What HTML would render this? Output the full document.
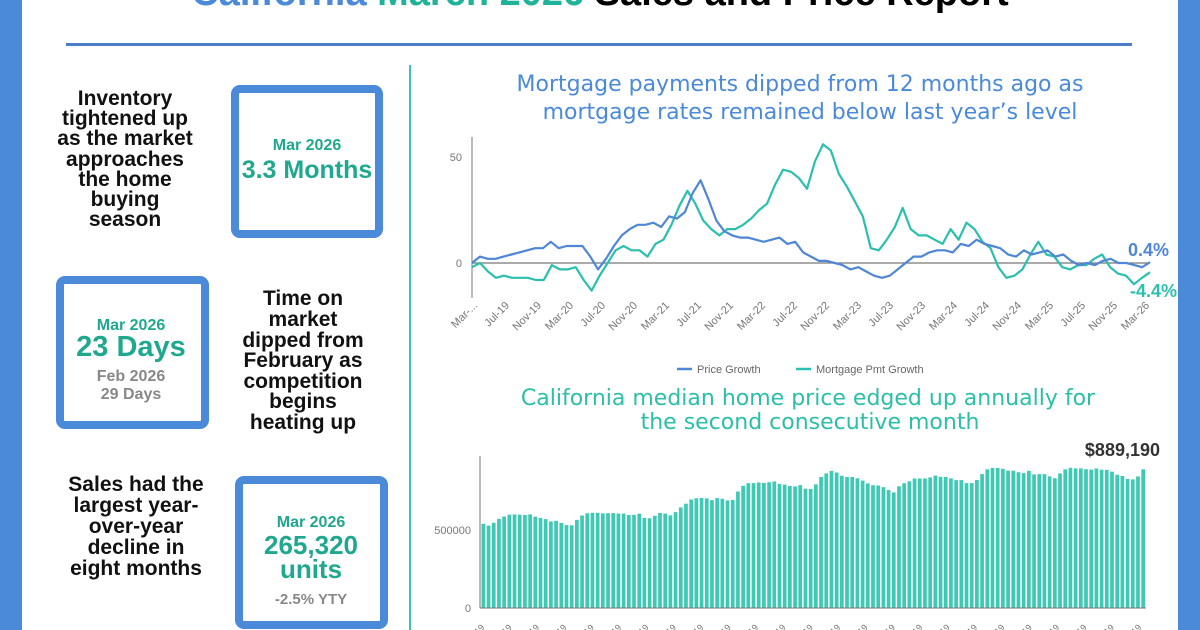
<!DOCTYPE html>
<html><head><meta charset="utf-8"><style>
html,body{margin:0;padding:0;background:#fff;}
body{width:1200px;height:630px;overflow:hidden;position:relative;font-family:"Liberation Sans","DejaVu Sans",sans-serif;}
svg{position:absolute;left:0;top:0;}
</style></head><body>
<svg id="s" width="1200" height="630" viewBox="0 0 1200 630" xmlns="http://www.w3.org/2000/svg">
<rect x="0" y="0" width="22" height="630" fill="#4a8ad9"/>
<rect x="1178" y="0" width="22" height="630" fill="#4a8ad9"/>
<text x="600" y="5" text-anchor="middle" font-size="38" font-weight="bold" fill="#000"><tspan fill="#4a8ad9">California</tspan> <tspan fill="#1fb49a">March 2026</tspan> Sales and Price Report</text>
<rect x="66" y="43" width="1066" height="3" fill="#4a7ec9"/>
<rect x="409" y="65" width="2" height="565" fill="#3ec3b0"/>
<g font-weight="bold" font-size="21" fill="#111" text-anchor="middle" font-family="'Liberation Sans',sans-serif">
<text x="125" y="105">Inventory</text><text x="125" y="125">tightened up</text><text x="125" y="145">as the market</text><text x="125" y="166">approaches</text><text x="125" y="186">the home</text><text x="125" y="206">buying</text><text x="125" y="226">season</text>
<text x="303" y="305">Time on</text><text x="303" y="326">market</text><text x="303" y="347">dipped from</text><text x="303" y="367">February as</text><text x="303" y="388">competition</text><text x="303" y="408">begins</text><text x="303" y="429">heating up</text>
<text x="136" y="491">Sales had the</text><text x="136" y="512">largest year-</text><text x="136" y="533">over-year</text><text x="136" y="554">decline in</text><text x="136" y="575">eight months</text>
</g>
<g fill="none" stroke="#4a8ad9" stroke-width="8">
<rect x="235" y="89" width="144" height="145" rx="5"/>
<rect x="60" y="280" width="145" height="145" rx="5"/>
<rect x="239" y="480" width="145" height="145" rx="5"/>
</g>
<g text-anchor="middle" font-family="'Liberation Sans',sans-serif" font-weight="bold" fill="#1fa88e">
<text x="307" y="150" font-size="16">Mar 2026</text><text x="307" y="178" font-size="25">3.3 Months</text>
<text x="131" y="330" font-size="16">Mar 2026</text><text x="131" y="356" font-size="29">23 Days</text>
<text x="311" y="527" font-size="16">Mar 2026</text><text x="311" y="554" font-size="26">265,320</text><text x="311" y="578" font-size="26">units</text>
</g>
<g text-anchor="middle" font-family="'Liberation Sans',sans-serif" fill="#888" font-weight="bold">
<text x="131" y="381" font-size="16">Feb 2026</text><text x="131" y="399" font-size="16">29 Days</text>
<text x="311" y="604" font-size="15">-2.5% YTY</text>
</g>
<g text-anchor="middle" font-size="22" fill="#4a8ad9" font-family="'DejaVu Sans',sans-serif">
<text x="800" y="91">Mortgage payments dipped from 12 months ago as</text>
<text x="810" y="119">mortgage rates remained below last year’s level</text>
</g>
<g text-anchor="middle" font-size="22" fill="#2bbfa8" font-family="'DejaVu Sans',sans-serif">
<text x="808" y="405">California median home price edged up annually for</text>
<text x="810" y="429">the second consecutive month</text>
</g>
<g id="lc"></g>
<g id="bc"></g>
</svg>
<script>
var NS="http://www.w3.org/2000/svg";
function el(p,t,a,txt){var e=document.createElementNS(NS,t);for(var k in a)e.setAttribute(k,a[k]);if(txt!=null)e.textContent=txt;p.appendChild(e);return e;}
var lc=document.getElementById('lc'),bc=document.getElementById('bc');
var x0=472,x1=1150,yz=263,sc=2.12;
el(lc,'line',{x1:x0,y1:137,x2:x0,y2:298,stroke:'#777','stroke-width':1});
el(lc,'line',{x1:x0,y1:yz,x2:x1,y2:yz,stroke:'#777','stroke-width':1.2});
el(lc,'text',{x:462,y:yz+4,'font-size':11,fill:'#777','text-anchor':'end'},'0');
el(lc,'text',{x:462,y:yz-106+4,'font-size':11,fill:'#777','text-anchor':'end'},'50');
var blue=[0,3,2,2,3,4,5,6,7,7,10,7,8,8,8,3,-3,2,8,13,16,18,18,19,17,22,21,24,33,39,30,20,15,13,12,12,11,10,11,12,9,10,5,3,1,1,0,-1,-3,-2,-4,-6,-7,-6,-3,0,3,3,5,6,6,5,9,8,11,9,8,7,4,3,6,4,5,6,3,4,1,-1,0,-1,1,2,0,0,-1,-2,0.4];
var teal=[-2,0,-4,-7,-6,-7,-7,-7,-8,-8,-1,-3,-3,-2,-8,-13,-6,0,6,8,6,6,3,9,11,18,27,34,28,20,16,13,16,16,18,21,25,28,37,44,43,40,35,48,56,53,42,36,29,22,7,6,11,17,26,16,13,13,11,9,16,11,19,16,10,7,-2,-7,-6,-3,4,10,4,3,-2,-3,-1,-1,2,4,-2,-5,-6,-10,-7,-4.4];
function path(d,c){var s='';for(var i=0;i<d.length;i++){var x=x0+(x1-x0)*i/(d.length-1),y=yz-d[i]*sc;s+=(i?'L':'M')+x.toFixed(1)+','+y.toFixed(1);}el(lc,'path',{d:s,fill:'none',stroke:c,'stroke-width':2.2,'stroke-linejoin':'round'});}
path(teal,'#2bbfae');path(blue,'#4f86d6');
var labs=['Mar-...','Jul-19','Nov-19','Mar-20','Jul-20','Nov-20','Mar-21','Jul-21','Nov-21','Mar-22','Jul-22','Nov-22','Mar-23','Jul-23','Nov-23','Mar-24','Jul-24','Nov-24','Mar-25','Jul-25','Nov-25','Mar-26'];
for(var i=0;i<labs.length;i++){var x=x0+6+(x1-x0-6)*i/(labs.length-1);el(lc,'text',{x:x,y:306,'font-size':11,fill:'#777','text-anchor':'end',transform:'rotate(-45 '+x+' 306)'},labs[i]);}
el(lc,'text',{x:1128,y:256,'font-size':18,'font-weight':'bold',fill:'#4f86d6'},'0.4%');
el(lc,'text',{x:1130,y:297,'font-size':18,'font-weight':'bold',fill:'#2bbfae'},'-4.4%');
el(lc,'line',{x1:677,y1:369,x2:692,y2:369,stroke:'#4f86d6','stroke-width':2.5});
el(lc,'text',{x:697,y:373,'font-size':11,fill:'#666'},'Price Growth');
el(lc,'line',{x1:796,y1:369,x2:811,y2:369,stroke:'#2bbfae','stroke-width':2.5});
el(lc,'text',{x:816,y:373,'font-size':11,fill:'#666'},'Mortgage Pmt Growth');
var bx0=481,bx1=1146,by0=608,bs=78/500;
var bv=[540,525,565,585,600,600,595,600,580,575,555,560,535,525,570,605,610,610,605,610,605,605,590,610,575,575,610,605,590,635,665,700,705,705,690,710,690,690,760,800,800,805,800,815,795,790,775,790,760,765,835,865,885,850,840,840,825,800,785,785,760,740,795,805,830,830,830,850,840,840,820,820,795,805,855,895,900,895,880,880,860,880,850,865,845,830,880,900,895,895,885,895,885,885,855,845,820,830,889];
var N=128,w=(bx1-bx0)/N;
for(var i=0;i<N;i++){var t=i*(bv.length-1)/(N-1),k=Math.floor(t),f=t-k;var v=k+1<bv.length?bv[k]*(1-f)+bv[k+1]*f:bv[k];var h=v*bs;el(bc,'rect',{x:(bx0+i*w+0.5).toFixed(2),y:(by0-h).toFixed(1),width:(w-1.5).toFixed(2),height:h.toFixed(1),fill:'#3ec9b4'});}
el(bc,'line',{x1:bx0-1,y1:456,x2:bx0-1,y2:by0,stroke:'#777','stroke-width':1});
el(bc,'line',{x1:bx0-1,y1:by0,x2:bx1,y2:by0,stroke:'#777','stroke-width':1});
el(bc,'text',{x:471,y:534,'font-size':11,fill:'#777','text-anchor':'end'},'500000');
el(bc,'text',{x:471,y:612,'font-size':11,fill:'#777','text-anchor':'end'},'0');
el(bc,'text',{x:1160,y:456,'font-size':18,'font-weight':'bold',fill:'#333','text-anchor':'end'},'$889,190');
for(var i=0;i<25;i++){var x=bx0+4+i*(bx1-bx0-8)/24;el(bc,'text',{x:x,y:628,'font-size':9,fill:'#777','text-anchor':'end',transform:'rotate(-45 '+x+' 628)'},'Mar-19');}
</script>
</body></html>
